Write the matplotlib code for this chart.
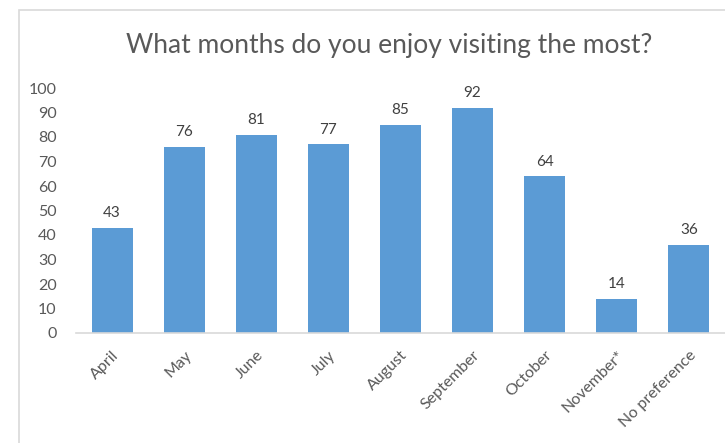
import matplotlib.pyplot as plt
from matplotlib.patches import Rectangle

months = ['April', 'May', 'June', 'July', 'August', 'September',
          'October', 'November*', 'No preference']
counts = [43, 76, 81, 77, 85, 92, 64, 14, 36]

plt.rcParams['font.family'] = ['Lato', 'DejaVu Sans']

fig = plt.figure(figsize=(7.25, 4.43), dpi=100)
ax = fig.add_axes([76 / 725, (443 - 333) / 443, 1 - 76 / 725, 245 / 443])

# light chart-area border like the Excel export
fig.patches.append(Rectangle((19 / 725, -0.1), 1.2, (443 - 10) / 443 + 0.1,
                             transform=fig.transFigure, fill=False,
                             edgecolor='#d9d9d9', linewidth=1.2))

x = range(len(months))
bars = ax.bar(x, counts, width=0.57, color='#5b9bd5')
for xi, v in zip(x, counts):
    ax.text(xi, v + 3, str(v), ha='center', va='bottom', fontsize=11, color='#404040')

ax.set_xlim(-0.5, len(months) - 0.5)
ax.set_ylim(0, 100)
ax.set_yticks(range(0, 101, 10))
ax.set_xticks(list(x))
ax.set_xticklabels(months, rotation=45, ha='right', rotation_mode='anchor')
ax.tick_params(axis='both', length=0, labelsize=11.5, labelcolor='#595959')
ax.tick_params(axis='y', pad=14)
ax.tick_params(axis='x', pad=11)

for s in ['top', 'right', 'left']:
    ax.spines[s].set_visible(False)
ax.spines['bottom'].set_color('#d9d9d9')
ax.spines['bottom'].set_linewidth(1.2)

fig.text(0.537, 0.898, 'What months do you enjoy visiting the most?',
         ha='center', va='center', fontsize=19, color='#595959')

fig.savefig('out.png', dpi=100)
